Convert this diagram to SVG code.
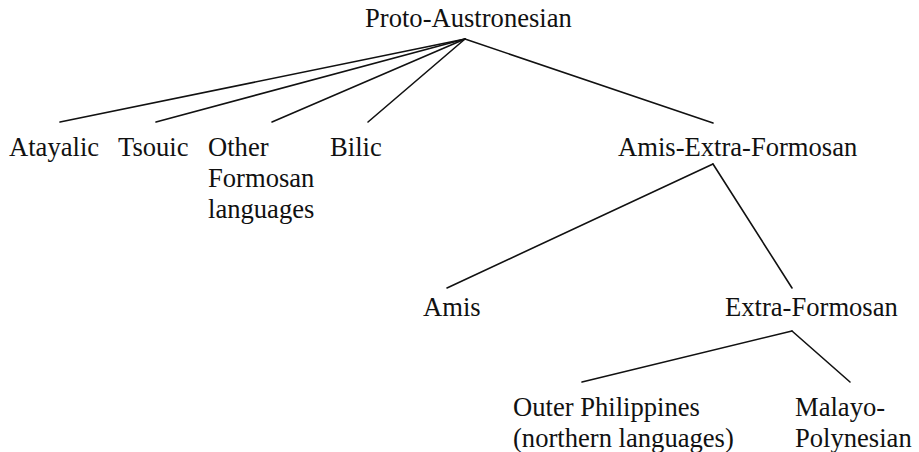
<svg xmlns="http://www.w3.org/2000/svg" width="919" height="452" viewBox="0 0 919 452">
<style>
text { font-family: 'Liberation Serif', 'DejaVu Serif', serif; font-size: 26.6px; fill: #111; }
.edge { stroke: #111; stroke-width: 1.6; fill: none; stroke-linecap: round; }
</style>
<rect width="919" height="452" fill="#fff"/>
<g id="connectors">
  <line class="edge" x1="465" y1="39" x2="60" y2="122"/>
  <line class="edge" x1="465" y1="39" x2="156" y2="122"/>
  <line class="edge" x1="465" y1="39" x2="272" y2="122"/>
  <line class="edge" x1="465" y1="39" x2="368" y2="122"/>
  <line class="edge" x1="465" y1="39" x2="713" y2="123"/>
  <line class="edge" x1="713" y1="164" x2="447" y2="288"/>
  <line class="edge" x1="713" y1="164" x2="792" y2="288"/>
  <line class="edge" x1="792" y1="331" x2="582" y2="382"/>
  <line class="edge" x1="792" y1="331" x2="850" y2="382"/>
</g>
<g font-family="Liberation Serif, serif">
<g id="proto-austronesian"><text x="365" y="27">Proto-Austronesian</text></g>
<g id="atayalic"><text x="9" y="156">Atayalic</text></g>
<g id="tsouic"><text x="118" y="156">Tsouic</text></g>
<g id="other-formosan"><text x="208" y="156">Other</text><text x="208" y="187">Formosan</text><text x="208" y="218">languages</text></g>
<g id="bilic"><text x="330" y="156">Bilic</text></g>
<g id="amis-extra-formosan"><text x="618" y="156">Amis-Extra-Formosan</text></g>
<g id="amis"><text x="423" y="316">Amis</text></g>
<g id="extra-formosan"><text x="725" y="316">Extra-Formosan</text></g>
<g id="outer-philippines"><text x="513" y="416">Outer Philippines</text><text x="513" y="447">(northern languages)</text></g>
<g id="malayo-polynesian"><text x="795" y="416">Malayo-</text><text x="795" y="447">Polynesian</text></g>
</g>
</svg>
